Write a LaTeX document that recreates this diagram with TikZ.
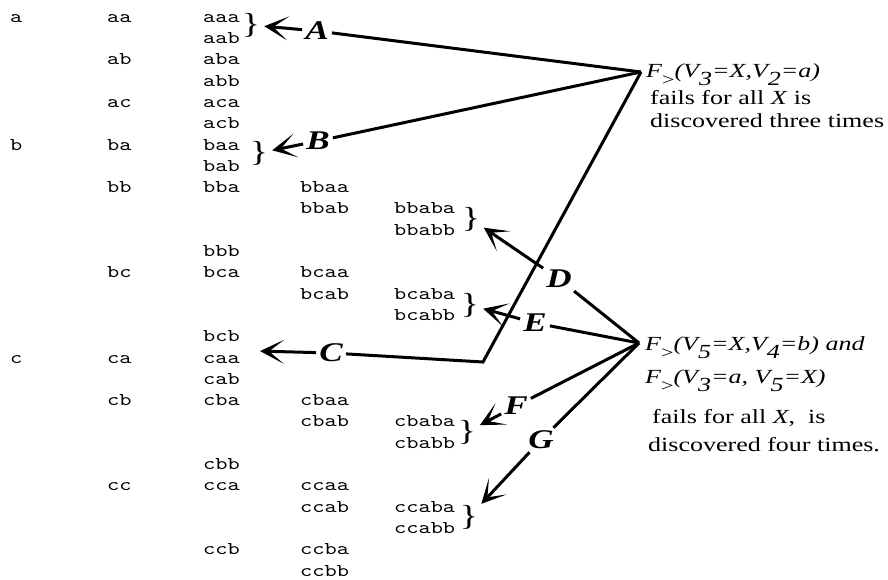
\documentclass[tikz,border=0pt]{standalone}
\usepackage{fontspec}
\setmainfont[FakeStretch=1.3]{Liberation Serif}
\newfontfamily\treefont[FakeStretch=1.29]{lmmono10-regular.otf}
\usepackage{tikz}
\usetikzlibrary{arrows.meta, positioning}
\newcommand{\Fgt}{F\raisebox{-8pt}{\upshape\fontsize{17}{17}\selectfont >}}
\newcommand{\lowsub}[1]{\raisebox{-8pt}{#1}}
\newcommand{\lvtop}{\rule{0pt}{15pt}}
\tikzset{
  ar/.style={-{Stealth[length=24pt, width=24pt, inset=15pt]}, line width=3pt,
    shorten >=3pt},
  ln/.style={line width=3pt},
}

\begin{document}
\begin{tikzpicture}[
  x=1pt, y=-1pt,
  lvl/.style={anchor=north west, inner sep=0pt, align=left,
    font=\treefont\fontsize{18}{21.3}\selectfont},
  lbl/.style={inner sep=3pt, font=\fontsize{27}{27}\selectfont\bfseries\itshape},
  brc/.style={inner sep=1pt, font=\fontsize{29}{29}\selectfont},
  expr/.style={anchor=base west, inner sep=0pt,
    font=\fontsize{20}{20}\selectfont\itshape},
  note/.style={anchor=base west, inner sep=0pt, font=\fontsize{20}{20}\selectfont},
]
\useasboundingbox (0,0) rectangle (888,580);

% ---- Search tree, one column per level ----
\node[lvl] (lv1) at (10,7) {\lvtop a\\ \\ \\ \\ \\ \\ b\\ \\ \\ \\ \\ \\ \\ \\ \\ \\ c};
\node[lvl] (lv2) at (107,7) {\lvtop aa\\ \\ ab\\ \\ ac\\ \\ ba\\ \\ bb\\ \\ \\ \\ bc\\ \\ \\ \\
  ca\\ \\ cb\\ \\ \\ \\ cc};
\node[lvl] (lv3) at (203,7) {\lvtop aaa\\ aab\\ aba\\ abb\\ aca\\ acb\\ baa\\ bab\\ bba\\ \\ \\
  bbb\\ bca\\ \\ \\ bcb\\ caa\\ cab\\ cba\\ \\ \\ cbb\\ cca\\ \\ \\ ccb};
\node[lvl] (lv4) at (300,177.4) {\lvtop bbaa\\ bbab\\ \\ \\ bcaa\\ bcab\\ \\ \\ \\ \\
  cbaa\\ cbab\\ \\ \\ ccaa\\ ccab\\ \\ ccba\\ ccbb};
\node[lvl] (lv5) at (394,198.7) {\lvtop bbaba\\ bbabb\\ \\ \\ bcaba\\ bcabb\\ \\ \\ \\ \\
  cbaba\\ cbabb\\ \\ \\ ccaba\\ ccabb};

% ---- Braces ----
\node[brc] (brA) at (251,25) {\}};
\node[brc] (brB) at (259,153) {\}};
\node[brc] (brD) at (471,219) {\}};
\node[brc] (brE) at (470,305) {\}};
\node[brc] (brF) at (467,432) {\}};
\node[brc] (brG) at (469,517) {\}};
\coordinate (tipC) at (257,351);

% ---- Labels ----
\node[lbl] (labA) at (317,31) {A};
\node[lbl] (labB) at (318,141) {B};
\node[lbl] (labC) at (331,353) {C};
\node[lbl] (labD) at (559,279) {D};
\node[lbl] (labE) at (535,323) {E};
\node[lbl] (labF) at (516,406) {F};
\node[lbl] (labG) at (541,440) {G};

% ---- Failure notes ----
\node[expr] (fgt1) at (646,78) {\Fgt(V\lowsub{3}=X,V\lowsub{2}=a)};
\node[note] (fail1) at (650,105) {fails for all \textit{X} is};
\node[note] (disc1) at (650,128) {discovered three times};
\node[expr] (fgt2) at (645,350) {\Fgt(V\lowsub{5}=X,V\lowsub{4}=b) and};
\node[expr] (fgt3) at (645,383) {\Fgt(V\lowsub{3}=a, V\lowsub{5}=X)};
\node[note] (fail2) at (652,423) {fails for all \textit{X},\ \ is};
\node[note] (disc2) at (648,451) {discovered four times.};
\coordinate (hub1) at ([xshift=-5pt, yshift=6pt]fgt1.base west);
\coordinate (hub2) at ([xshift=-6pt, yshift=7pt]fgt2.base west);
\coordinate (bendC) at (483,362);

% ---- Relationships ----
\draw[ar] (labA) -- (brA);
\draw[ar] (labB) -- (brB);
\draw[ar] (labC) -- (tipC);
\draw[ar] (labD) -- (brD);
\draw[ar] (labE) -- (brE);
\draw[ar] (labF) -- (brF);
\draw[ar] (labG) -- (brG);
\draw[ln] (labA) -- (hub1);
\draw[ln] (labB) -- (hub1);
\draw[ln] (hub1) -- (bendC) -- (labC);
\draw[ln] (labD) -- (hub2);
\draw[ln] (labE) -- (hub2);
\draw[ln] (labF) -- (hub2);
\draw[ln] (labG) -- (hub2);

\end{tikzpicture}
\end{document}
